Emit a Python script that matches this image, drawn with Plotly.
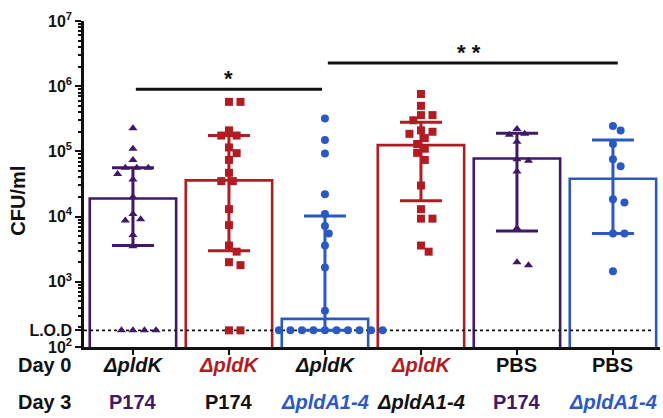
import math
import plotly.graph_objects as go

# ---------------- data ----------------
LOD = 180
bar_median = [1.9e4, 3.6e4, 270, 1.25e5, 7.8e4, 3.8e4]
err_high = [5.6e4, 1.75e5, 1.02e4, 2.8e5, 1.9e5, 1.5e5]
err_low = [3.6e3, 3.0e3, 180, 1.75e4, 6.0e3, 5.5e3]

pts_g1 = [2.26e5, 1.1e5, 7.4e4, 5.6e4, 5.6e4, 5.6e4, 4.5e4, 3.7e4, 2.0e4,
          1.1e4, 9.1e3, 8.7e3, 5.2e3, 3.5e3, 180, 180, 180, 180]
pts_g2 = [5.75e5, 5.75e5, 2.1e5, 1.75e5, 1.75e5, 1.15e5, 9.4e4, 7.4e4, 4.7e4,
          3.5e4, 3.5e4, 1.3e4, 7.4e3, 3.6e3, 2.9e3, 2.0e3, 1.8e3, 180, 180]
pts_g3 = [3.2e5, 1.5e5, 9.3e4, 2.2e4, 1.1e4, 7.2e3, 5.5e3, 3.6e3, 1.65e3, 360,
          180, 180, 180, 180, 180, 180, 180, 180, 180, 180]
pts_g4 = [7.6e5, 5.0e5, 3.6e5, 3.6e5, 3.0e5, 2.1e5, 2.0e5, 1.86e5, 1.6e5, 1.3e5,
          1.1e5, 9.5e4, 7.4e4, 3.0e4, 1.3e4, 9.3e3, 9.3e3, 3.6e3, 2.9e3]
pts_g5 = [2.2e5, 1.86e5, 1.8e5, 1.4e5, 7.6e4, 7.2e4, 4.9e4, 6.6e3, 2.0e3, 1.8e3]
pts_g6 = [2.45e5, 2.1e5, 1.3e5, 7.6e4, 5.9e4, 1.85e4, 1.65e4, 5.5e3, 5.5e3, 1.45e3]
points = [pts_g1, pts_g2, pts_g3, pts_g4, pts_g5, pts_g6]

day0_labels = ["ΔpldK", "ΔpldK", "ΔpldK", "ΔpldK", "PBS", "PBS"]
day3_labels = ["P174", "P174", "ΔpldA1-4", "ΔpldA1-4", "P174", "ΔpldA1-4"]
y_tickvals = [100, LOD, 1e3, 1e4, 1e5, 1e6, 1e7]
y_ticktext = ["10<sup>2</sup>", "L.O.D", "10<sup>3</sup>", "10<sup>4</sup>",
              "10<sup>5</sup>", "10<sup>6</sup>", "10<sup>7</sup>"]
sig_pairs = [(0, 2, 9.0e5, "*"), (2, 5, 2.27e6, "* *")]

# ---------------- styles ----------------
PURPLE = "#3f1868"
RED = "#b01c22"
BLUE = "#2c58c2"
BLACK = "#111111"
bar_colors = [PURPLE, RED, BLUE, RED, PURPLE, BLUE]
symbols = ["triangle-up", "square", "circle", "square", "triangle-up", "circle"]
day0_colors = [BLACK, RED, BLACK, RED, BLACK, BLACK]
day0_italic = [True, True, True, True, False, False]
day3_colors = [PURPLE, BLACK, BLUE, BLACK, PURPLE, BLUE]
day3_italic = [False, False, True, True, False, True]
FONT = "Liberation Sans, Arial, sans-serif"

W, H = 663, 418
ML, MR, MT, MB = 84, 3, 21, 71
PX_X = (W - ML - MR) / 6.0
PX_Y = (H - MT - MB) / 5.0


def swarm(vals, diam=8.5, step=0.04):
    placed = []
    offs = [0.0] * len(vals)
    order = sorted(range(len(vals)), key=lambda i: -vals[i])
    for i in order:
        yv = math.log10(vals[i]) * PX_Y
        k = 0
        while True:
            n = (k + 1) // 2
            cand = n * step * (1 if k % 2 == 1 else -1) if k else 0.0
            ok = True
            for (ox, oy) in placed:
                if math.hypot((cand - ox) * PX_X, yv - oy) < diam:
                    ok = False
                    break
            if ok:
                break
            k += 1
        placed.append((cand, yv))
        offs[i] = cand
    return offs


fig = go.Figure()
xs = list(range(6))

fig.add_trace(go.Bar(
    x=xs, y=bar_median, width=0.9,
    marker=dict(color="white", line=dict(color=bar_colors, width=2.6)),
    showlegend=False, hoverinfo="skip"))

# LOD dotted line
fig.add_trace(go.Scatter(x=[-0.51, 5.42], y=[LOD, LOD], mode="lines",
                         line=dict(color=BLACK, width=1.8, dash="dot"),
                         showlegend=False, hoverinfo="skip"))

for i in range(6):
    offs = swarm(points[i])
    fig.add_trace(go.Scatter(
        x=[i + o for o in offs], y=points[i], mode="markers",
        marker=dict(symbol=symbols[i], color=bar_colors[i], size=8,
                    line=dict(width=0)),
        showlegend=False))
    fig.add_trace(go.Scatter(
        x=[i], y=[bar_median[i]], mode="markers",
        marker=dict(size=1, color="rgba(0,0,0,0)"),
        error_y=dict(type="data", symmetric=False,
                     array=[err_high[i] - bar_median[i]],
                     arrayminus=[bar_median[i] - err_low[i]],
                     color=bar_colors[i], thickness=3, width=21),
        showlegend=False, hoverinfo="skip"))

for (a, b, yv, txt) in sig_pairs:
    fig.add_trace(go.Scatter(x=[a + 0.03, b - 0.03 if b < 5 else b + 0.05], y=[yv, yv],
                             mode="lines", line=dict(color=BLACK, width=3),
                             showlegend=False, hoverinfo="skip"))
    fig.add_annotation(x=(a + b) / 2.0, y=math.log10(yv), text="<b>" + txt + "</b>",
                       showarrow=False, yanchor="bottom", yshift=-4,
                       font=dict(family=FONT, size=22, color=BLACK))

minor_vals = [m * 10 ** d for d in range(2, 7) for m in range(2, 10)]

fig.update_layout(
    width=W, height=H,
    margin=dict(l=ML, r=MR, t=MT, b=MB, autoexpand=False),
    paper_bgcolor="white", plot_bgcolor="white",
    bargap=0.1,
    font=dict(family=FONT, color=BLACK),
    xaxis=dict(range=[-0.51, 5.49], showticklabels=False, ticks="outside",
               ticklen=5, tickwidth=2, tickcolor=BLACK, tickvals=xs,
               showline=True, linecolor=BLACK, linewidth=2.5, automargin=False,
               showgrid=False, zeroline=False, fixedrange=True),
    yaxis=dict(type="log", range=[2, 7], tickmode="array", automargin=False,
               tickvals=y_tickvals,
               ticktext=["<b>" + t + "</b>" for t in y_ticktext],
               ticks="outside",
               ticklen=6, tickwidth=2, tickcolor=BLACK,
               tickfont=dict(family=FONT, size=16, color=BLACK),
               minor=dict(tickvals=minor_vals, ticks="outside", ticklen=3,
                          tickwidth=1.5, tickcolor=BLACK),
               showline=True, linecolor=BLACK, linewidth=2.5,
               showgrid=False, zeroline=False),
)

fig.add_annotation(x=-0.114, y=0.45, xref="paper", yref="paper",
                   text="<b>CFU/ml</b>", textangle=-90, showarrow=False,
                   xanchor="center", yanchor="middle",
                   font=dict(family=FONT, size=20, color=BLACK))

row_y = [-0.055, -0.168]
for r, lab in enumerate(["Day 0", "Day 3"]):
    fig.add_annotation(x=-0.118, y=row_y[r], xref="paper", yref="paper",
                       text="<b>" + lab + "</b>", showarrow=False,
                       xanchor="left", yanchor="middle",
                       font=dict(family=FONT, size=20, color=BLACK))

for i in range(6):
    for r, (labs, cols, ital) in enumerate([(day0_labels, day0_colors, day0_italic),
                                            (day3_labels, day3_colors, day3_italic)]):
        t = "<b>" + labs[i] + "</b>"
        if ital[i]:
            t = "<i>" + t + "</i>"
        fig.add_annotation(x=i, y=row_y[r], xref="x", yref="paper", text=t,
                           showarrow=False, xanchor="center", yanchor="middle",
                           font=dict(family=FONT, size=20, color=cols[i]))

fig.write_html("out.html", config={"displayModeBar": False},
               post_script="document.body.style.margin='0px';")
